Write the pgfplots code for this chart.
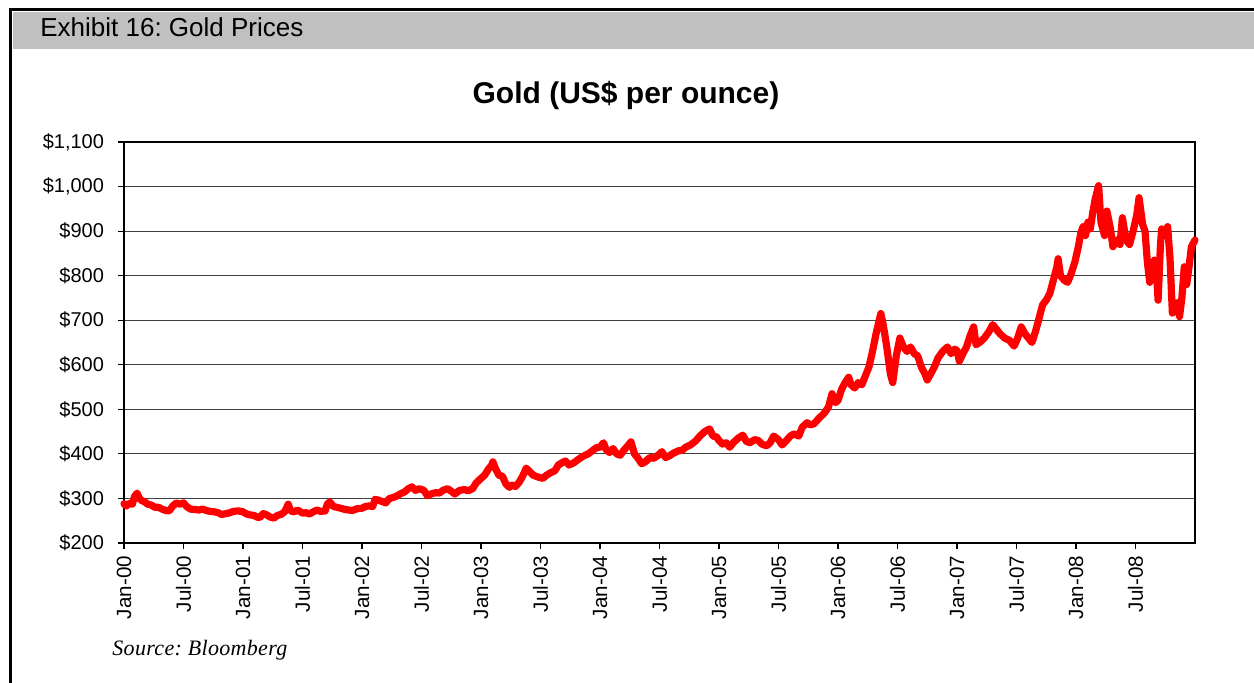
\documentclass[border=0pt]{standalone}
\usepackage{fontspec}
\setmainfont{Liberation Sans}
\newfontfamily\sourcefont[LetterSpace=1.5]{Liberation Serif}
\usepackage{pgfplots}
\pgfplotsset{compat=1.18}
\usepackage{pgfplotstable}
\definecolor{barGrey}{RGB}{192,192,192}
\frenchspacing

% gold, US$ per ounce, x in decimal years
\pgfplotstableread{
yr price
2000.00 288
2000.02 283
2000.04 289
2000.07 287
2000.09 305
2000.11 312
2000.13 300
2000.15 295
2000.17 293
2000.20 287
2000.23 285
2000.26 280
2000.29 280
2000.32 276
2000.35 273
2000.38 272
2000.41 283
2000.44 290
2000.47 287
2000.50 290
2000.53 281
2000.56 276
2000.60 275
2000.63 274
2000.66 276
2000.69 273
2000.72 271
2000.76 270
2000.79 268
2000.82 264
2000.86 266
2000.89 268
2000.92 271
2000.96 272
2001.00 270
2001.03 265
2001.06 263
2001.09 262
2001.12 258
2001.14 257
2001.17 266
2001.20 263
2001.23 258
2001.26 256
2001.29 262
2001.32 264
2001.35 270
2001.38 287
2001.40 272
2001.43 270
2001.46 274
2001.50 267
2001.53 268
2001.56 265
2001.59 270
2001.62 274
2001.65 271
2001.69 272
2001.71 288
2001.73 292
2001.76 282
2001.79 280
2001.82 278
2001.86 275
2001.89 274
2001.92 273
2001.96 277
2002.00 278
2002.03 282
2002.06 283
2002.09 282
2002.11 298
2002.14 296
2002.17 293
2002.20 290
2002.23 300
2002.26 302
2002.29 305
2002.32 310
2002.36 315
2002.39 322
2002.42 326
2002.45 318
2002.48 322
2002.52 318
2002.55 306
2002.58 310
2002.62 313
2002.65 312
2002.68 318
2002.72 322
2002.75 316
2002.78 310
2002.82 318
2002.86 320
2002.89 317
2002.93 322
2002.96 335
2003.00 345
2003.03 352
2003.06 365
2003.09 375
2003.10 382
2003.12 368
2003.15 352
2003.18 350
2003.21 332
2003.24 325
2003.26 330
2003.29 327
2003.32 336
2003.35 350
2003.38 368
2003.41 360
2003.44 352
2003.48 348
2003.52 345
2003.55 352
2003.58 357
2003.62 362
2003.65 375
2003.68 380
2003.71 384
2003.74 375
2003.78 380
2003.82 388
2003.86 395
2003.90 400
2003.94 408
2003.97 414
2004.00 415
2004.03 425
2004.05 410
2004.08 403
2004.11 412
2004.14 400
2004.17 397
2004.20 408
2004.24 420
2004.26 427
2004.29 400
2004.32 390
2004.35 378
2004.38 382
2004.42 392
2004.45 390
2004.48 395
2004.52 405
2004.55 392
2004.58 395
2004.62 402
2004.66 407
2004.69 408
2004.72 415
2004.76 420
2004.80 428
2004.84 440
2004.88 450
2004.92 456
2004.95 440
2004.98 438
2005.00 430
2005.03 422
2005.06 425
2005.09 415
2005.12 425
2005.16 435
2005.20 442
2005.23 428
2005.26 425
2005.30 432
2005.33 430
2005.36 422
2005.40 418
2005.43 425
2005.46 440
2005.50 432
2005.53 420
2005.56 428
2005.60 440
2005.63 445
2005.67 440
2005.70 460
2005.74 470
2005.77 465
2005.80 468
2005.84 480
2005.88 490
2005.92 505
2005.95 535
2005.98 515
2006.00 520
2006.03 545
2006.06 560
2006.09 572
2006.11 555
2006.14 548
2006.17 560
2006.20 555
2006.23 575
2006.26 595
2006.29 630
2006.32 670
2006.36 715
2006.38 690
2006.41 640
2006.44 580
2006.46 560
2006.49 620
2006.52 660
2006.55 640
2006.58 630
2006.61 640
2006.64 625
2006.67 620
2006.70 595
2006.73 580
2006.75 566
2006.78 580
2006.81 595
2006.84 615
2006.88 630
2006.92 640
2006.95 625
2006.98 635
2007.00 632
2007.02 608
2007.05 625
2007.08 640
2007.11 665
2007.14 685
2007.16 645
2007.19 650
2007.23 660
2007.27 675
2007.30 690
2007.33 680
2007.36 670
2007.40 660
2007.44 655
2007.48 642
2007.51 660
2007.54 685
2007.57 670
2007.60 660
2007.63 650
2007.66 675
2007.69 705
2007.72 735
2007.75 745
2007.78 760
2007.81 790
2007.84 820
2007.85 838
2007.87 800
2007.90 790
2007.93 785
2007.96 805
2007.99 830
2008.02 865
2008.04 895
2008.06 910
2008.08 890
2008.10 920
2008.12 905
2008.14 940
2008.16 970
2008.19 1002
2008.21 920
2008.24 890
2008.26 945
2008.29 905
2008.31 865
2008.34 880
2008.37 870
2008.39 930
2008.42 880
2008.45 870
2008.48 900
2008.51 935
2008.53 975
2008.56 915
2008.58 900
2008.60 830
2008.62 785
2008.64 820
2008.66 835
2008.68 790
2008.69 745
2008.71 870
2008.72 905
2008.74 890
2008.77 910
2008.79 840
2008.81 716
2008.83 735
2008.85 740
2008.87 708
2008.89 750
2008.91 820
2008.93 780
2008.95 820
2008.97 865
2009.00 880
}\goldtable

\begin{document}
\begin{tikzpicture}
  % page in reference pixels (1px = 0.5pt), y counted from the bottom
  \begin{scope}[x=0.5pt,y=0.5pt]
  \path[use as bounding box, fill=white] (0,0) rectangle (1254,683);
  \fill[barGrey] (13,634) rectangle (1254,670.5);
  \draw[line width=1.5pt] (10,673.5) -- (1254,673.5);
  \draw[line width=1.5pt] (10.5,675) -- (10.5,0);
  \node[anchor=base west, inner sep=0, font=\fontsize{13}{15}\selectfont]
    at (40,646) {Exhibit 16: Gold Prices};
  \node[anchor=base, inner sep=0, font=\bfseries\fontsize{15}{18}\selectfont]
    at (626,579) {Gold (US\$ per ounce)};
  \node[anchor=base west, inner sep=0, font=\sourcefont\itshape\fontsize{11}{13}\selectfont]
    at (112,27) {Source: Bloomberg};
  \end{scope}

  \begin{axis}[
    at={(62pt,70pt)}, anchor=south west,
    width=535.5pt, height=200.5pt, scale only axis,
    xmin=2000, xmax=2009,
    ymin=200, ymax=1100,
    xtick={2000,2000.5,2001,2001.5,2002,2002.5,2003,2003.5,2004,2004.5,2005,2005.5,2006,2006.5,2007,2007.5,2008,2008.5},
    xticklabels={Jan-00,Jul-00,Jan-01,Jul-01,Jan-02,Jul-02,Jan-03,Jul-03,Jan-04,Jul-04,Jan-05,Jul-05,Jan-06,Jul-06,Jan-07,Jul-07,Jan-08,Jul-08},
    ytick={200,300,400,500,600,700,800,900,1000,1100},
    yticklabels={\$200,\$300,\$400,\$500,\$600,\$700,\$800,\$900,{\$1,000},{\$1,100}},
    x tick label style={rotate=90, anchor=east, font=\fontsize{10.3}{12}\selectfont},
    y tick label style={font=\fontsize{10}{12}\selectfont, xshift=-3.5pt},
    xtick pos=bottom, ytick pos=left,
    tick align=outside, major tick length=3pt,
    tick style={black, line width=0.6pt},
    ymajorgrids, grid style={black!75, line width=0.5pt},
    axis line style={black, line width=1pt},
    clip=false,
  ]
    \addplot[color=red, line width=3.6pt, line join=round, line cap=round]
      table[x=yr, y=price] {\goldtable};
  \end{axis}
\end{tikzpicture}
\end{document}
